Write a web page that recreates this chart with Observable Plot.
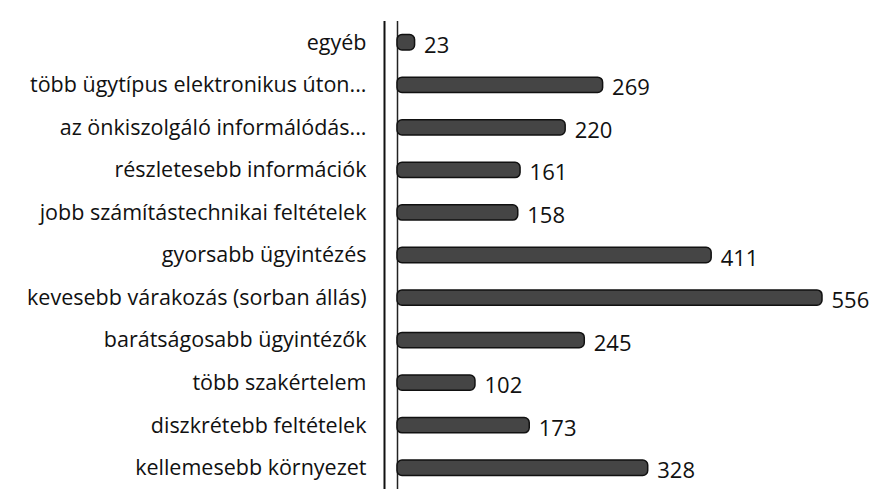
<!DOCTYPE html>
<html>
<head>
<meta charset="utf-8">
<script src="https://cdn.jsdelivr.net/npm/d3@7"></script>
<script src="https://cdn.jsdelivr.net/npm/@observablehq/plot@0.6"></script>
<style>
  html, body { margin: 0; padding: 0; background: #fff; }
  svg { overflow: visible; }
</style>
</head>
<body>
<div id="chart"></div>
<script>
const categories = [
  "egyéb",
  "több ügytípus elektronikus úton...",
  "az önkiszolgáló informálódás...",
  "részletesebb információk",
  "jobb számítástechnikai feltételek",
  "gyorsabb ügyintézés",
  "kevesebb várakozás (sorban állás)",
  "barátságosabb ügyintézők",
  "több szakértelem",
  "diszkrétebb feltételek",
  "kellemesebb környezet"
];
const values = [23, 269, 220, 161, 158, 411, 556, 245, 102, 173, 328];

const data = categories.map((c, i) => ({category: c, value: values[i]}));

const chart = Plot.plot({
  width: 873,
  height: 491,
  marginLeft: 396,
  marginRight: 52,
  marginTop: 21,
  marginBottom: 2,
  style: {fontFamily: "'Open Sans', sans-serif", fontSize: "21.5px", color: "#111", background: "#fff"},
  x: {domain: [0, 556], axis: null},
  y: {domain: categories, paddingInner: 0.64, paddingOuter: 0.32, round: false, label: null},
  marks: [
    Plot.ruleX([0], {dx: -12, stroke: "#111", strokeWidth: 2}),
    Plot.ruleX([0], {dx: 1, stroke: "#222", strokeWidth: 1.5}),
    Plot.barX(data, {x: "value", y: "category", dx: 1, fill: "#454545", stroke: "#111", strokeWidth: 1.5, rx: 5}),
    Plot.text(data, {x: "value", y: "category", text: d => String(d.value), dx: 10, dy: 3, textAnchor: "start", fontSize: 22, fill: "#111"}),
    Plot.axisY({tickSize: 0, tickPadding: 30, fontSize: 21.5, fill: "#111"})
  ]
});
document.getElementById("chart").append(chart);
</script>
</body>
</html>
